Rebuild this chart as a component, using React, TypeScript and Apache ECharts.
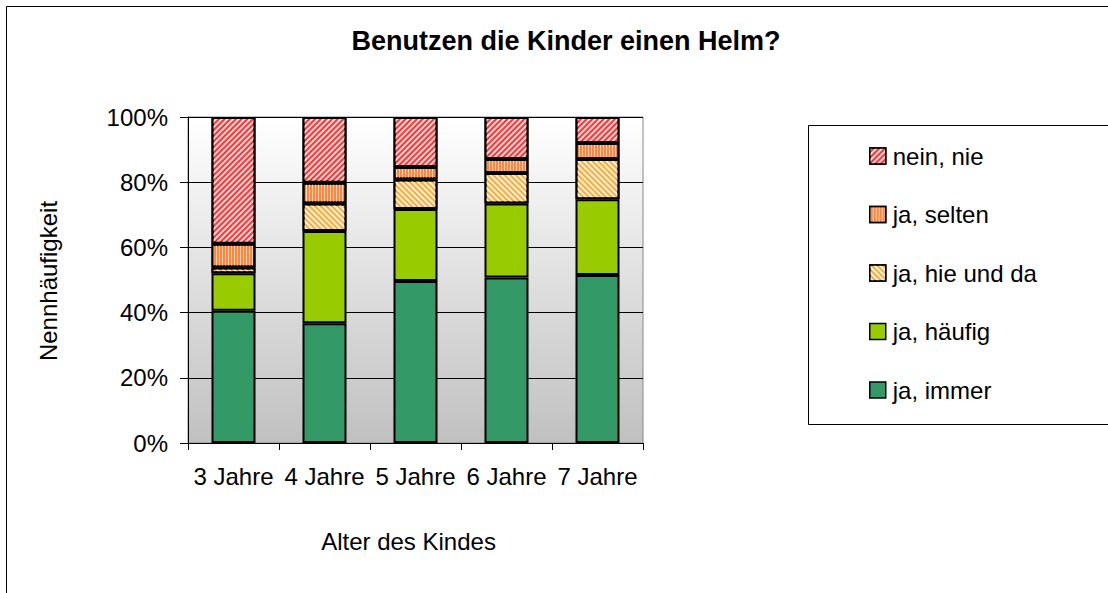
import React, { useEffect, useRef } from "react";
import * as echarts from "echarts";

const categories = ["3 Jahre", "4 Jahre", "5 Jahre", "6 Jahre", "7 Jahre"];
const seriesNames = ["ja, immer", "ja, häufig", "ja, hie und da", "ja, selten", "nein, nie"];
const immer = [40.6, 36.7, 49.7, 50.8, 51.5];
const haeufig = [11.5, 28.3, 22.1, 22.7, 23.3];
const hieUndDa = [1.7, 8.5, 9.0, 9.3, 12.3];
const selten = [7.3, 6.3, 3.9, 4.3, 4.9];
const nein = [38.9, 20.2, 15.3, 12.9, 8.0];
const yTicks = [0, 20, 40, 60, 80, 100];

const FONT = "'Liberation Sans', Arial, sans-serif";

export default function App() {
  const ref = useRef<HTMLDivElement>(null);
  useEffect(() => {
    document.body.style.margin = "0";
    const chart = echarts.init(ref.current!, null, { renderer: "svg" });
    const styles: any[] = [
      { color: "#339966" },
      { color: "#99cc00" },
      {
        color: "#ffaa33",
        decal: { symbol: "rect", symbolSize: 1, dashArrayX: [1, 0], dashArrayY: [1.5, 1.2], rotation: Math.PI / 4, color: "rgba(255,255,255,0.85)" },
      },
      {
        color: "#ff8640",
        decal: { symbol: "rect", symbolSize: 1, dashArrayX: [1, 2], dashArrayY: [1, 0], rotation: 0, color: "#ffd0b0" },
      },
      {
        color: "#ff3535",
        decal: { symbol: "rect", symbolSize: 1, dashArrayX: [1, 0], dashArrayY: [1.2, 1.5], rotation: -Math.PI / 4, color: "rgba(255,255,255,0.8)" },
      },
    ];
    const values = [immer, haeufig, hieUndDa, selten, nein];

    const series = seriesNames.map((name, i) => ({
      name,
      type: "bar",
      stack: "total",
      barWidth: 44,
      data: values[i],
      itemStyle: { ...styles[i], borderColor: "#000", borderWidth: 2 },
    }));

    chart.setOption({
      animation: false,
      backgroundColor: "#fff",
      title: {
        text: "Benutzen die Kinder einen Helm?",
        left: 561,
        top: 22,
        textAlign: "center",
        textStyle: { fontFamily: FONT, fontSize: 27, fontWeight: "bold", color: "#000" },
      },
      grid: {
        left: 188,
        top: 117,
        right: 465,
        bottom: 150,
        show: true,
        borderColor: "#888",
        borderWidth: 1,
        backgroundColor: new echarts.graphic.LinearGradient(0, 0, 0, 1, [
          { offset: 0, color: "#ffffff" },
          { offset: 1, color: "#c0c0c0" },
        ]),
      },
      legend: {
        orient: "vertical",
        left: 869,
        top: 144,
        padding: 0,
        itemWidth: 16,
        itemHeight: 16,
        itemGap: 34.5,
        icon: "rect",
        data: [...seriesNames].reverse(),
        textStyle: { fontFamily: FONT, fontSize: 24, color: "#000", padding: [0, 0, 0, 2] },
        itemStyle: { borderColor: "#000", borderWidth: 1.5 },
      },
      xAxis: {
        type: "category",
        data: categories,
        axisLine: { lineStyle: { color: "#000", width: 1 } },
        axisTick: { show: true, length: 7, lineStyle: { color: "#000" } },
        axisLabel: { fontFamily: FONT, fontSize: 24, color: "#000", margin: 21, interval: 0 },
      },
      yAxis: {
        type: "value",
        min: yTicks[0],
        max: yTicks[yTicks.length - 1],
        interval: 20,
        axisLine: { show: true, lineStyle: { color: "#000", width: 1 } },
        axisTick: { show: true, length: 8, lineStyle: { color: "#000" } },
        axisLabel: { fontFamily: FONT, fontSize: 24, color: "#000", margin: 20, formatter: "{value}%" },
        splitLine: { show: true, lineStyle: { color: "#000", width: 1 } },
      },
      graphic: [
        { type: "rect", shape: { x: 6.5, y: 6.5, width: 1300, height: 800 }, style: { fill: "none", stroke: "#000", lineWidth: 1 }, silent: true, z: -1 },
        { type: "rect", shape: { x: 808.5, y: 125.5, width: 400, height: 299 }, style: { fill: "none", stroke: "#000", lineWidth: 1 }, silent: true },
        { type: "text", x: 408.5, y: 541, style: { text: "Alter des Kindes", font: `24px ${FONT}`, fill: "#000", textAlign: "center", textVerticalAlign: "middle" } },
        { type: "text", x: 48, y: 281, rotation: Math.PI / 2, style: { text: "Nennhäufigkeit", font: `24px ${FONT}`, fill: "#000", textAlign: "center", textVerticalAlign: "middle" } },
      ],
      series,
    });
    return () => chart.dispose();
  }, []);
  return <div ref={ref} style={{ width: 1108, height: 593 }} />;
}
